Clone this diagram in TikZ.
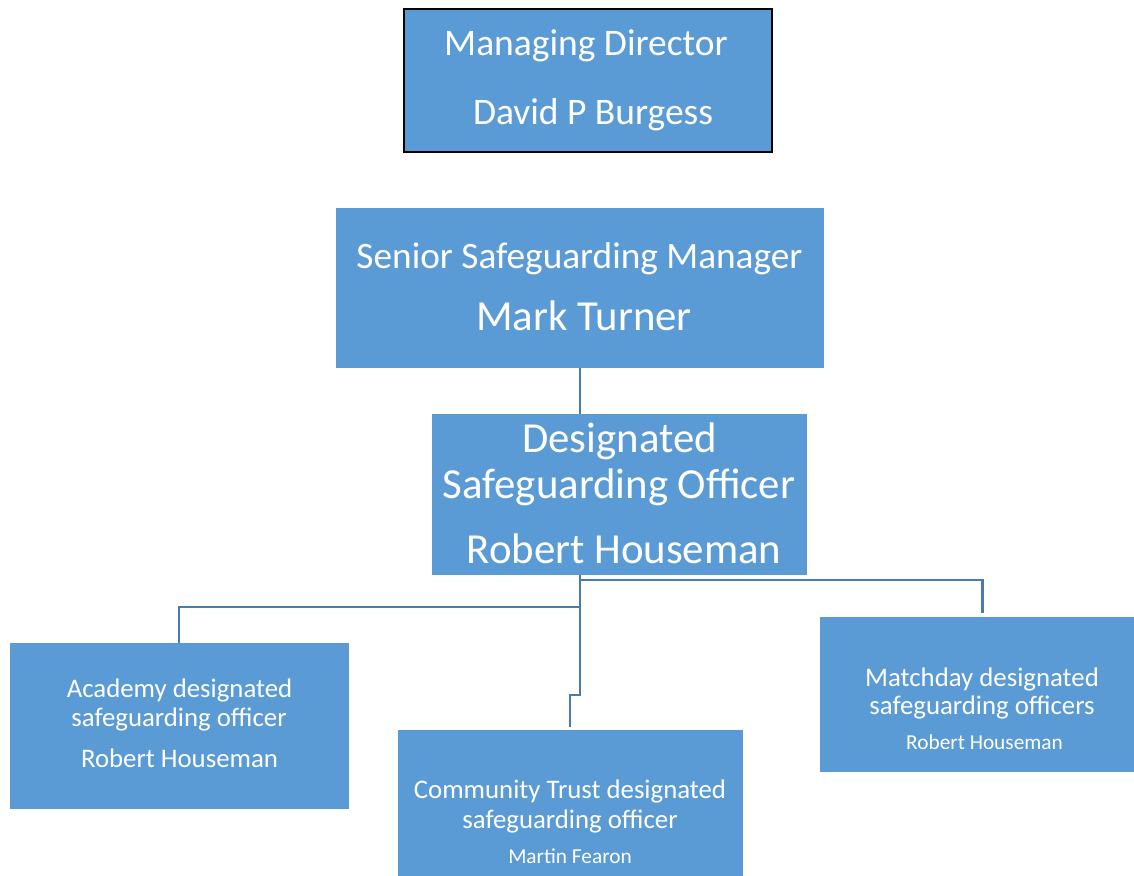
\documentclass[tikz,border=0pt]{standalone}
\usepackage{fontspec}
\setmainfont{Carlito}
\definecolor{boxfill}{HTML}{5B9BD5}
\definecolor{linkc}{HTML}{4A7AB0}
\begin{document}
\begin{tikzpicture}[x=1pt,y=-1pt,
  orgbox/.style={fill=boxfill,draw=none,inner sep=0pt,anchor=north west},
  txt/.style={text=white,anchor=base,inner sep=0pt},
  link/.style={draw=linkc,line width=2.8pt}]
\useasboundingbox[fill=white] (0,0) rectangle (1134,875);
% boxes
\node[orgbox,draw=black,line width=1.6pt,minimum width=368pt,minimum height=143pt] (md) at (403,8) {};
\node[orgbox,minimum width=488pt,minimum height=160pt] (senior) at (336,208) {};
\node[orgbox,minimum width=375pt,minimum height=161pt] (dso) at (432,414) {};
\node[orgbox,minimum width=339pt,minimum height=166pt] (acad) at (10,643) {};
\node[orgbox,minimum width=345pt,minimum height=150pt] (comm) at (398,730) {};
\node[orgbox,minimum width=314pt,minimum height=155pt] (match) at (820,617) {};
% texts
\node[txt,font=\fontsize{37.5}{40}\selectfont] (md1) at (586,56) {Managing Director};
\node[txt,font=\fontsize{37.5}{40}\selectfont] (md2) at (593,124) {David P Burgess};
\node[txt,font=\fontsize{37.3}{40}\selectfont] (se1) at (579.5,268) {Senior Safeguarding Manager};
\node[txt,font=\fontsize{42.8}{46}\selectfont] (se2) at (584,330) {Mark Turner};
\node[txt,font=\fontsize{42.8}{46}\selectfont] (ds1) at (619.5,452) {Designated};
\node[txt,font=\fontsize{42.8}{46}\selectfont] (ds2) at (619,498) {Safeguarding Officer};
\node[txt,font=\fontsize{42.8}{46}\selectfont] (ds3) at (624,563) {Robert Houseman};
\node[txt,font=\fontsize{26.8}{30}\selectfont] (ac1) at (179.5,697) {Academy designated};
\node[txt,font=\fontsize{26.8}{30}\selectfont] (ac2) at (179,726) {safeguarding officer};
\node[txt,font=\fontsize{26.8}{30}\selectfont] (ac3) at (179.5,767) {Robert Houseman};
\node[txt,font=\fontsize{26.8}{30}\selectfont] (co1) at (570,798) {Community Trust designated};
\node[txt,font=\fontsize{26.8}{30}\selectfont] (co2) at (570,828) {safeguarding officer};
\node[txt,font=\fontsize{21.3}{24}\selectfont] (co3) at (570,863) {Martin Fearon};
\node[txt,font=\fontsize{26.8}{30}\selectfont] (ma1) at (982,686) {Matchday designated};
\node[txt,font=\fontsize{26.8}{30}\selectfont] (ma2) at (982,714) {safeguarding officers};
\node[txt,font=\fontsize{21.3}{24}\selectfont] (ma3) at (984.5,749) {Robert Houseman};
% connectors
\coordinate (t) at (580,575);
\coordinate (mt) at (982.5,613);
\coordinate (ct) at (570,727);
\draw[link] (senior.south -| t) -- (dso.north -| t);
\draw[link] (t) -- (580,580) -| (mt);
\draw[link] (580,580) |- (179,607) -- (acad.north -| 179,0);
\draw[link] (580,607) -- (580,695) -| (ct);
\end{tikzpicture}
\end{document}
